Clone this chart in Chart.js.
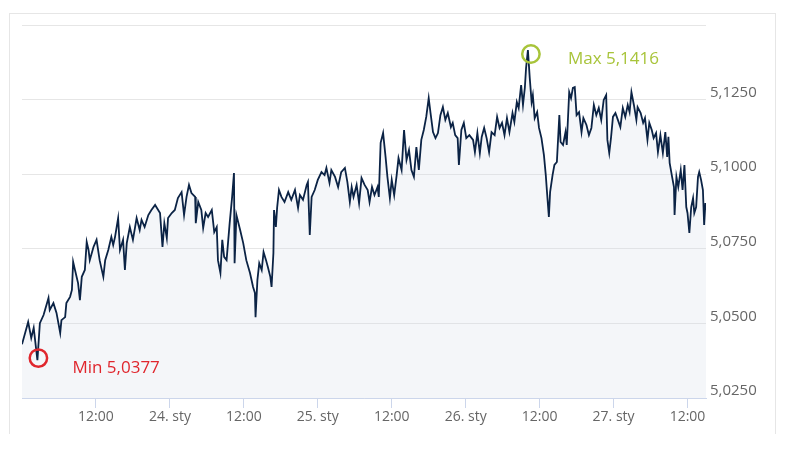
<!DOCTYPE html>
<html lang="pl">
<head>
<meta charset="UTF-8">
<title>Kurs</title>
<script src="https://cdn.jsdelivr.net/npm/chart.js@4.4.1/dist/chart.umd.min.js"></script>
<style>
    body { margin: 0; background: #fff; }
    .frame {
        position: absolute; left: 9px; top: 13px; width: 765px; height: 420px;
        border: 1px solid #e6e6e6; border-bottom: none;
    }
    canvas { position: absolute; left: 0; top: 0; }
</style>
</head>
<body>
<div class="frame"></div>
<canvas id="chart" width="790" height="456"></canvas>
<script>
// hours since 23 Jan 00:00
const hours = [
    0, 1.0, 1.5, 1.9, 2.5, 2.9, 3.5, 4.3, 4.5, 5.1,
    5.6, 6.2, 6.4, 7.0, 7.2, 7.8, 8.1, 8.3, 8.6, 9.1,
    9.4, 9.7, 10.2, 10.5, 10.8, 11.0, 11.6, 12.1, 12.6, 13.2,
    13.5, 14.0, 14.5, 14.8, 15.1, 15.6, 15.9, 16.4, 16.7, 17.0,
    17.5, 18.0, 18.6, 19.1, 19.4, 19.9, 20.5, 21.0, 21.6, 21.8,
    22.4, 22.8, 23.1, 23.5, 23.7, 24.3, 24.8, 25.3, 25.9, 26.3,
    26.7, 27.1, 27.5, 28.1, 28.2, 28.6, 29.1, 29.4, 29.8, 30.2,
    30.8, 31.2, 31.6, 31.8, 32.2, 32.5, 32.8, 33.2, 33.7, 34.1,
    34.4, 34.5, 34.8, 35.4, 35.9, 36.4, 37.0, 37.5, 37.8, 37.9,
    38.2, 38.5, 38.9, 39.2, 39.6, 39.9, 40.3, 40.5, 40.8, 40.9,
    41.2, 41.4, 41.7, 42.1, 42.6, 43.2, 43.7, 44.3, 44.8, 45.1,
    45.6, 46.2, 46.4, 46.7, 47.0, 47.5, 48.0, 48.6, 49.1, 49.4,
    49.9, 50.2, 50.8, 51.3, 51.8, 52.4, 52.8, 53.2, 53.5, 53.8,
    54.3, 54.7, 55.1, 55.6, 56.1, 56.4, 56.8, 57.2, 57.7, 57.9,
    58.2, 58.6, 59.0, 59.3, 59.7, 60.0, 60.4, 60.8, 61.1, 61.6,
    62.0, 62.4, 62.8, 63.2, 63.6, 64.0, 64.4, 64.8, 65.2, 65.6,
    66.0, 66.3, 66.7, 67.1, 67.5, 67.9, 68.3, 68.7, 69.1, 69.6,
    69.9, 70.3, 70.7, 70.9, 71.3, 71.7, 72.1, 72.6, 73.2, 73.5,
    73.9, 74.3, 74.6, 75.0, 75.4, 75.8, 76.2, 76.7, 77.1, 77.5,
    77.9, 78.3, 78.7, 79.1, 79.6, 79.9, 80.3, 80.6, 81.0, 81.3,
    81.6, 81.8, 82.1, 82.4, 82.7, 82.9, 83.2, 83.6, 83.9, 84.3,
    84.7, 85.0, 85.2, 85.5, 85.7, 86.1, 86.4, 86.8, 87.2, 87.4,
    87.8, 88.2, 88.4, 88.8, 89.1, 89.4, 89.7, 90.0, 90.4, 90.8,
    91.1, 91.6, 92.0, 92.4, 92.8, 93.2, 93.6, 94.0, 94.4, 94.8,
    95.0, 95.3, 95.6, 95.9, 96.3, 96.7, 97.1, 97.5, 97.9, 98.3,
    98.6, 98.9, 99.3, 99.7, 99.9, 100.4, 100.8, 101.1, 101.5, 101.8,
    102.2, 102.5, 102.9, 103.2, 103.6, 104.0, 104.4, 104.7, 104.9, 105.1,
    105.5, 105.8, 105.9, 106.2, 106.5, 106.9, 107.2, 107.5, 107.8, 108.0,
    108.3, 108.6, 108.9, 109.1, 109.4, 109.7, 109.9, 110.2, 110.5, 110.7,
    110.9, 111.0
];

const rates = [
    5.0430, 5.0505, 5.0451, 5.0485, 5.0377, 5.0501, 5.0528, 5.0585, 5.0545, 5.0568,
    5.0535, 5.0468, 5.0511, 5.0521, 5.0568, 5.0589, 5.0612, 5.0706, 5.0679, 5.0635,
    5.0578, 5.0656, 5.0679, 5.0773, 5.0746, 5.0712, 5.0756, 5.0780, 5.0712, 5.0656,
    5.0712, 5.0746, 5.0790, 5.0763, 5.0790, 5.0853, 5.0746, 5.0780, 5.0679, 5.0769,
    5.0823, 5.0780, 5.0853, 5.0813, 5.0847, 5.0823, 5.0863, 5.0880, 5.0897, 5.0890,
    5.0870, 5.0756, 5.0836, 5.0786, 5.0853, 5.0870, 5.0880, 5.0920, 5.0940, 5.0863,
    5.0924, 5.0964, 5.0937, 5.0924, 5.0836, 5.0907, 5.0880, 5.0820, 5.0870, 5.0857,
    5.0880, 5.0806, 5.0823, 5.0712, 5.0669, 5.0780, 5.0723, 5.0712, 5.0836, 5.0924,
    5.1004, 5.0702, 5.0863, 5.0813, 5.0769, 5.0712, 5.0669, 5.0622, 5.0602, 5.0521,
    5.0645, 5.0702, 5.0679, 5.0739, 5.0712, 5.0689, 5.0656, 5.0622, 5.0736, 5.0880,
    5.0823, 5.0887, 5.0947, 5.0924, 5.0907, 5.0940, 5.0914, 5.0947, 5.0887, 5.0930,
    5.0914, 5.0964, 5.0974, 5.0796, 5.0924, 5.0947, 5.0981, 5.1007, 5.0997, 5.1021,
    5.0971, 5.1014, 5.0991, 5.0957, 5.1007, 5.1021, 5.0974, 5.0907, 5.0957, 5.0924,
    5.0964, 5.0903, 5.0987, 5.0964, 5.0947, 5.0907, 5.0957, 5.0930, 5.0957, 5.0924,
    5.1105, 5.1138, 5.1058, 5.0991, 5.0920, 5.0981, 5.0930, 5.0997, 5.1054, 5.1014,
    5.1148, 5.1048, 5.1081, 5.1014, 5.0991, 5.1091, 5.1014, 5.1115, 5.1148, 5.1192,
    5.1255, 5.1205, 5.1141, 5.1121, 5.1138, 5.1198, 5.1225, 5.1182, 5.1205, 5.1158,
    5.1172, 5.1131, 5.1121, 5.1031, 5.1148, 5.1172, 5.1121, 5.1131, 5.1115, 5.1074,
    5.1138, 5.1071, 5.1125, 5.1155, 5.1121, 5.1074, 5.1141, 5.1131, 5.1192, 5.1155,
    5.1172, 5.1131, 5.1188, 5.1141, 5.1205, 5.1175, 5.1242, 5.1222, 5.1299, 5.1232,
    5.1289, 5.1356, 5.1416, 5.1322, 5.1242, 5.1265, 5.1188, 5.1208, 5.1155, 5.1121,
    5.1064, 5.0997, 5.0940, 5.0857, 5.0940, 5.0997, 5.1031, 5.1041, 5.1198, 5.1108,
    5.1098, 5.1141, 5.1098, 5.1275, 5.1255, 5.1289, 5.1292, 5.1198, 5.1208, 5.1141,
    5.1188, 5.1165, 5.1131, 5.1155, 5.1232, 5.1198, 5.1222, 5.1182, 5.1249, 5.1265,
    5.1115, 5.1071, 5.1125, 5.1192, 5.1205, 5.1182, 5.1158, 5.1222, 5.1192, 5.1232,
    5.1208, 5.1275, 5.1232, 5.1182, 5.1225, 5.1205, 5.1172, 5.1188, 5.1115, 5.1172,
    5.1148, 5.1121, 5.1138, 5.1074, 5.1131, 5.1071, 5.1141, 5.1058, 5.1125, 5.1038,
    5.0991, 5.0957, 5.0863, 5.0991, 5.0957, 5.1014, 5.0947, 5.1031, 5.0890, 5.0870,
    5.0803, 5.0890, 5.0920, 5.0870, 5.0890, 5.0991, 5.1007, 5.0981, 5.0947, 5.0830,
    5.0903, 5.0880
];

const xTickValues = [12, 24, 36, 48, 60, 72, 84, 96, 108];
const xTickLabels = ['12:00', '24. sty', '12:00', '25. sty', '12:00', '26. sty', '12:00', '27. sty', '12:00'];
const yTickValues = [5.025, 5.05, 5.075, 5.1, 5.125, 5.15];
const yTickLabels = ['5,0250', '5,0500', '5,0750', '5,1000', '5,1250', ''];

const fmt = v => v.toFixed(4).replace('.', ',');

// min / max markers
const extremes = {
    id: 'extremes',
    afterDatasetsDraw(chart) {
        const ctx = chart.ctx;
        const xs = chart.scales.x, ys = chart.scales.y;
        const iMax = rates.indexOf(Math.max(...rates));
        const iMin = rates.indexOf(Math.min(...rates));
        const marks = [
            { i: iMax, text: 'Max ' + fmt(rates[iMax]), color: '#a8c43a', dx: 3, dy: 4, tx: 40, ty: 9 },
            { i: iMin, text: 'Min ' + fmt(rates[iMin]), color: '#e0262d', dx: 1, dy: -2, tx: 35, ty: 8 }
        ];
        ctx.save();
        marks.forEach(m => {
            const px = xs.getPixelForValue(hours[m.i]);
            const py = ys.getPixelForValue(rates[m.i]);
            ctx.beginPath();
            ctx.arc(px + m.dx, py + m.dy, 8.7, 0, Math.PI * 2);
            ctx.lineWidth = 2.5;
            ctx.strokeStyle = m.color;
            ctx.stroke();
            ctx.fillStyle = m.color;
            ctx.font = '17px "Open Sans"';
            ctx.textBaseline = 'middle';
            ctx.textAlign = 'left';
            ctx.fillText(m.text, px + m.tx, py + m.ty);
        });
        ctx.restore();
    }
};

new Chart(document.getElementById('chart'), {
    type: 'line',
    data: {
        datasets: [{
            data: hours.map((h, i) => ({ x: h, y: rates[i] })),
            borderColor: '#0b2345',
            borderWidth: 1.8,
            backgroundColor: 'rgba(210,220,232,0.25)',
            fill: 'start',
            pointRadius: 0,
            tension: 0
        }]
    },
    options: {
        responsive: false,
        animation: false,
        layout: { padding: { left: 22, top: 25, right: 0, bottom: 0 } },
        plugins: { legend: { display: false }, tooltip: { enabled: false } },
        scales: {
            x: {
                type: 'linear',
                min: 0,
                max: 111,
                afterBuildTicks: s => { s.ticks = xTickValues.map(v => ({ value: v })); },
                afterFit: s => { s.height = 58; },
                grid: { drawOnChartArea: false, tickLength: 10, tickColor: '#ccd6eb' },
                border: { color: '#ccd6eb', width: 1, z: 1 },
                ticks: {
                    color: '#666',
                    font: { family: 'Open Sans', size: 14 },
                    padding: 1,
                    maxRotation: 0,
                    autoSkip: false,
                    callback: v => xTickLabels[xTickValues.indexOf(v)]
                }
            },
            y: {
                position: 'right',
                min: 5.025,
                max: 5.15,
                afterBuildTicks: s => { s.ticks = yTickValues.map(v => ({ value: v })); },
                afterFit: s => { s.width = 84; },
                grid: { color: '#e6e6e6', drawTicks: false },
                border: { display: false },
                ticks: {
                    color: '#666',
                    font: { family: 'Open Sans', size: 15 },
                    padding: 4,
                    labelOffset: -7,
                    callback: (v, i) => yTickLabels[i]
                }
            }
        }
    },
    plugins: [extremes]
});
</script>
</body>
</html>
